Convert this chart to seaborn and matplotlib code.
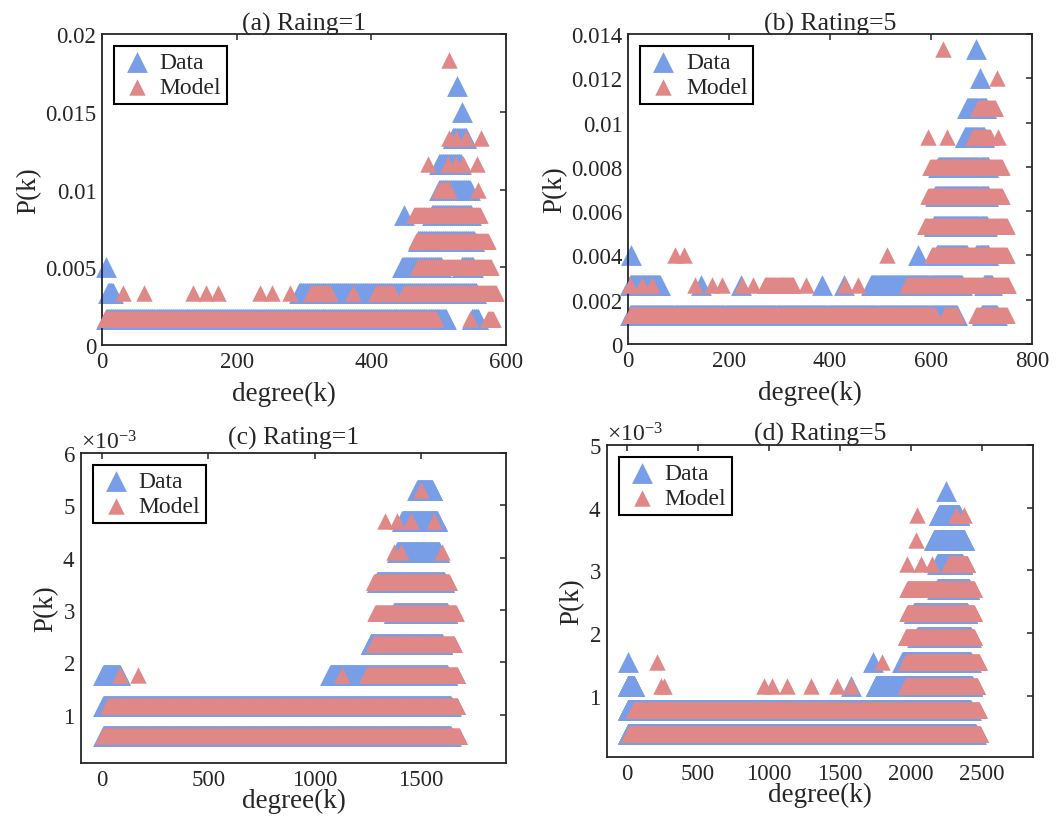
import numpy as np
import pandas as pd
import matplotlib
matplotlib.use("Agg")
import matplotlib.pyplot as plt
import seaborn as sns
from matplotlib.ticker import FuncFormatter, ScalarFormatter

# Degree distributions, read off the figure as runs of degrees that share
# one P(k) level: (P, first degree, last degree). Single points have k0 == k1.
a_data = [(0.00167, 6, 511), (0.00167, 549, 559),
          (0.00333, 9, 16), (0.00333, 293, 556),
          (0.005, 6, 6), (0.005, 446, 504), (0.005, 534, 551),
          (0.00667, 469, 553),
          (0.00833, 449, 449), (0.00833, 490, 548),
          (0.01, 501, 546), (0.01167, 501, 533), (0.01333, 521, 541),
          (0.015, 535, 535), (0.01667, 528, 528)]
a_model = [(0.00167, 4, 496), (0.00167, 546, 546), (0.00167, 573, 581),
           (0.00333, 31, 31), (0.00333, 63, 63), (0.00333, 135, 135),
           (0.00333, 155, 155), (0.00333, 172, 172), (0.00333, 234, 234),
           (0.00333, 252, 252), (0.00333, 279, 279), (0.00333, 311, 338),
           (0.00333, 373, 373), (0.00333, 407, 432), (0.00333, 449, 585),
           (0.005, 469, 578), (0.00667, 467, 573), (0.00833, 464, 561),
           (0.01, 501, 516), (0.01, 559, 559),
           (0.01167, 484, 484), (0.01167, 514, 514), (0.01167, 526, 526),
           (0.01167, 536, 536), (0.01167, 557, 557),
           (0.01333, 516, 516), (0.01333, 526, 526), (0.01333, 541, 541),
           (0.01333, 563, 563), (0.01833, 516, 516)]

b_data = [(0.00133, 4, 651), (0.00133, 700, 730),
          (0.00267, 4, 63), (0.00267, 144, 144), (0.00267, 224, 224),
          (0.00267, 384, 384), (0.00267, 427, 427), (0.00267, 482, 661),
          (0.00267, 705, 720),
          (0.004, 6, 6), (0.004, 575, 575), (0.004, 611, 671), (0.004, 690, 713),
          (0.00533, 605, 710), (0.00667, 608, 713), (0.008, 614, 713),
          (0.00933, 667, 705), (0.01067, 672, 709),
          (0.012, 696, 696), (0.01333, 690, 690)]
b_model = [(0.00133, 4, 607), (0.00133, 627, 651), (0.00133, 690, 750),
           (0.00267, 4, 4), (0.00267, 27, 27), (0.00267, 47, 47),
           (0.00267, 132, 132), (0.00267, 166, 166), (0.00267, 186, 186),
           (0.00267, 225, 225), (0.00267, 248, 248), (0.00267, 271, 327),
           (0.00267, 352, 352), (0.00267, 430, 430), (0.00267, 456, 456),
           (0.00267, 552, 753),
           (0.004, 93, 93), (0.004, 111, 111), (0.004, 512, 512), (0.004, 601, 750),
           (0.00533, 588, 750), (0.00667, 595, 740), (0.008, 598, 740),
           (0.00933, 595, 595), (0.00933, 631, 631), (0.00933, 684, 717),
           (0.00933, 733, 733), (0.01067, 694, 727),
           (0.012, 730, 730), (0.01333, 624, 624)]

c_data = [(0.000588, 5, 1640), (0.001176, 5, 1640),
          (0.001765, 5, 83), (0.001765, 1074, 1624),
          (0.002353, 1263, 1601), (0.002941, 1373, 1624),
          (0.003529, 1294, 1609), (0.004118, 1388, 1585),
          (0.004706, 1412, 1577), (0.005294, 1483, 1553)]
c_model = [(0.000588, 5, 1680), (0.001176, 28, 1672),
           (0.001765, 83, 83), (0.001765, 170, 170), (0.001765, 1129, 1129),
           (0.001765, 1247, 1672),
           (0.002353, 1278, 1656), (0.002941, 1286, 1664),
           (0.003529, 1278, 1632),
           (0.004118, 1373, 1373), (0.004118, 1404, 1404), (0.004118, 1601, 1601),
           (0.004706, 1333, 1333), (0.004706, 1388, 1388),
           (0.004706, 1451, 1451), (0.004706, 1561, 1561),
           (0.005294, 1498, 1498)]

d_data = [(0.000388, 5, 2456), (0.000775, 5, 2421),
          (0.001163, 5, 52), (0.001163, 1576, 1576), (0.001163, 1753, 2433),
          (0.00155, 5, 5), (0.00155, 1736, 1736), (0.00155, 1941, 2421),
          (0.001938, 2046, 2421), (0.002326, 2023, 2398),
          (0.002713, 2187, 2410), (0.003101, 2187, 2363),
          (0.003488, 2164, 2375), (0.003876, 2199, 2340),
          (0.004264, 2246, 2246)]
d_model = [(0.000388, 16, 2490), (0.000775, 50, 2480),
           (0.001163, 238, 238), (0.001163, 262, 262), (0.001163, 966, 966),
           (0.001163, 1025, 1025), (0.001163, 1130, 1130), (0.001163, 1295, 1295),
           (0.001163, 1483, 1483), (0.001163, 1576, 1576), (0.001163, 1965, 2468),
           (0.00155, 211, 211), (0.00155, 1800, 1800), (0.00155, 1965, 2480),
           (0.001938, 1965, 2445), (0.002326, 1976, 2445),
           (0.002713, 1976, 2445),
           (0.003101, 1976, 1976), (0.003101, 2070, 2070),
           (0.003101, 2152, 2152), (0.003101, 2269, 2398),
           (0.003488, 2034, 2034),
           (0.003876, 2046, 2046), (0.003876, 2316, 2316), (0.003876, 2375, 2375)]

titles = ["(a) Raing=1", "(b) Rating=5", "(c) Rating=1", "(d) Rating=5"]

BLUE = "#789EE8"
RED = "#E08888"


def runs_to_frame(runs):
    # every degree inside a run sits on the same P(k) level
    ks, ps = [], []
    for p, k0, k1 in runs:
        k = np.arange(k0, k1 + 1)
        ks.append(k)
        ps.append(np.full(len(k), p))
    return pd.DataFrame({"k": np.concatenate(ks), "P": np.concatenate(ps)})


sns.set_style("white")
plt.rcParams['font.family'] = ['Liberation Serif', 'DejaVu Serif']
plt.rcParams['mathtext.fontset'] = 'custom'
plt.rcParams['mathtext.rm'] = 'Liberation Serif'
plt.rcParams['mathtext.it'] = 'Liberation Serif:italic'
plt.rcParams['axes.unicode_minus'] = False

fig = plt.figure(figsize=(10.6, 8.29), dpi=100)
rects = [[0.0962, 0.5826, 0.3811, 0.3752],
         [0.5925, 0.5838, 0.3811, 0.3739],
         [0.0764, 0.0784, 0.4009, 0.3739],
         [0.5726, 0.0857, 0.4019, 0.3764]]
panels = [(a_data, a_model), (b_data, b_model), (c_data, c_model), (d_data, d_model)]
xlims = [(0, 600), (0, 800), (-100, 1900), (-140, 2860)]
xticks = [np.arange(0, 601, 200), np.arange(0, 801, 200),
          np.arange(0, 1501, 500), np.arange(0, 2501, 500)]
ylims = [(0, 0.02), (0, 0.014), (0.00008, 0.006), (0.00003, 0.005)]
yticks = [np.arange(0, 0.0201, 0.005), np.arange(0, 0.01401, 0.002),
          np.arange(0.001, 0.00601, 0.001), np.arange(0.001, 0.00501, 0.001)]
title_pads = [3.5, 3.5, 6.5, 4.0]
xlabel_y = [-0.155, -0.155, -0.12, -0.12]
xlabel_x = [0.45, 0.45, 0.5, 0.5]

for i, (data_runs, model_runs) in enumerate(panels):
    ax = fig.add_axes(rects[i])
    df_d = runs_to_frame(data_runs)
    df_m = runs_to_frame(model_runs)
    sns.scatterplot(data=df_d, x="k", y="P", ax=ax, marker="^", s=225,
                    color=BLUE, edgecolor=BLUE, linewidth=0, label="Data",
                    clip_on=False, zorder=2)
    sns.scatterplot(data=df_m, x="k", y="P", ax=ax, marker="^", s=140,
                    color=RED, edgecolor=RED, linewidth=0, label="Model",
                    clip_on=False, zorder=3)

    ax.set_xlim(*xlims[i])
    ax.set_ylim(*ylims[i])
    ax.set_xticks(xticks[i])
    ax.set_yticks(yticks[i])
    if i < 2:
        ax.yaxis.set_major_formatter(FuncFormatter(lambda v, pos: "%g" % round(v, 6)))
    else:
        fmt = ScalarFormatter(useMathText=True)
        fmt.set_powerlimits((0, 0))
        ax.yaxis.set_major_formatter(fmt)
        ax.yaxis.get_offset_text().set_fontsize(17)

    for sp in ax.spines.values():
        sp.set_linewidth(1.3)
        sp.set_color("#262626")
    ax.tick_params(direction="in", length=4, width=1.1, top=True, right=True,
                   labelsize=16.5, colors="#262626", pad=4)
    ax.set_xlabel("degree(k)", fontsize=19.5)
    ax.xaxis.set_label_coords(xlabel_x[i], xlabel_y[i])
    ax.xaxis.label.set_va("center")
    ax.set_ylabel("P(k)", fontsize=19.5, labelpad=3)
    ax.set_title(titles[i], fontsize=18.5, pad=title_pads[i])

    leg = ax.legend(loc="upper left", fontsize=17, frameon=True, fancybox=False,
                    edgecolor="black", framealpha=1, borderaxespad=0.5,
                    handletextpad=0.2, borderpad=0.25, labelspacing=0.15,
                    handlelength=1.5, scatterpoints=1)
    leg.get_frame().set_linewidth(1.5)

fig.savefig("out.png", dpi=100)
